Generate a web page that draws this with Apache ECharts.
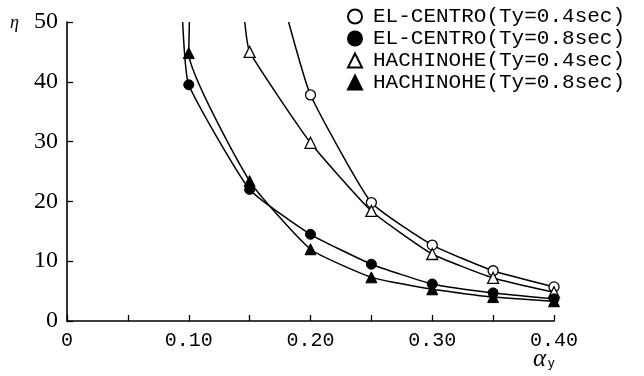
<!DOCTYPE html>
<html><head><meta charset="utf-8">
<script src="https://cdn.jsdelivr.net/npm/echarts@6/dist/echarts.min.js"></script>
<style>html,body{margin:0;padding:0;background:#fff}#c{width:644px;height:376px}</style>
</head><body><div id="c"></div>
<script>
// x values (alpha_y)
const alphaY = [0.10, 0.15, 0.20, 0.25, 0.30, 0.35, 0.40];
const seriesNames = ['EL-CENTRO(Ty=0.4sec)', 'EL-CENTRO(Ty=0.8sec)', 'HACHINOHE(Ty=0.4sec)', 'HACHINOHE(Ty=0.8sec)'];
// eta values read at each alpha_y (null = above the plotted range)
const elCentro04 = [null, null, 37.8, 19.8, 12.7, 8.4, 5.7];
const elCentro08 = [39.5, 22.0, 14.5, 9.5, 6.2, 4.7, 3.7];
const hachinohe04 = [null, 45.0, 29.8, 18.4, 11.2, 7.2, 4.8];
const hachinohe08 = [44.8, 23.4, 12.0, 7.3, 5.3, 4.0, 3.3];
// alpha_y where each curve leaves the top of the plot (eta = 50)
const topExitX = [0.182, 0.095, 0.146, 0.1005];
const topEta = 50;
// tick labels
const xTickValues = [0, 0.10, 0.20, 0.30, 0.40];
const xTickLabels = ['0', '0.10', '0.20', '0.30', '0.40'];
const yTickLabels = ['0', '10', '20', '30', '40', '50'];

const allValues = [elCentro04, elCentro08, hachinohe04, hachinohe08];
const symbols = ['circle', 'circle', 'triangle', 'triangle'];
const filled = [false, true, false, true];

function buildData(vals, exitX) {
  const d = [{ value: [exitX, topEta], symbol: 'none' }];
  vals.forEach((v, i) => { if (v != null) d.push([alphaY[i], v]); });
  return d;
}

const series = allValues.map((vals, k) => ({
  name: seriesNames[k],
  type: 'line',
  data: buildData(vals, topExitX[k]),
  smooth: 0.15,
  symbol: symbols[k],
  symbolSize: symbols[k] === 'circle' ? 10 : 11,
  lineStyle: { color: '#000', width: 1.5 },
  itemStyle: filled[k]
    ? { color: '#000', borderColor: '#000', borderWidth: 1 }
    : { color: '#fff', borderColor: '#000', borderWidth: 1.3 },
  emphasis: { disabled: true },
  z: filled[k] ? 3 : 2
}));

const chart = echarts.init(document.getElementById('c'), null, { renderer: 'canvas' });
chart.setOption({
  animation: false,
  backgroundColor: '#fff',
  grid: { left: 67, right: 90, top: 22, bottom: 55, containLabel: false },
  legend: {
    orient: 'vertical',
    left: 342, top: 1,
    itemWidth: 14, itemHeight: 14, itemGap: 1,
    selectedMode: false,
    data: seriesNames.map((n, k) => ({ name: n, icon: symbols[k] })),
    textStyle: { fontFamily: 'Liberation Mono', fontSize: 21, color: '#000', padding: [0, 0, 0, 6] }
  },
  xAxis: {
    type: 'value', min: 0, max: 0.4, interval: 0.05,
    axisLine: { show: true, lineStyle: { color: '#000', width: 1.6 } },
    axisTick: { show: true, inside: true, length: 6, lineStyle: { color: '#000', width: 1.3 } },
    splitLine: { show: false },
    axisLabel: {
      margin: 10,
      fontFamily: 'Liberation Mono', fontSize: 20, color: '#000',
      formatter: v => {
        const i = xTickValues.findIndex(t => Math.abs(t - v) < 1e-6);
        return i >= 0 ? xTickLabels[i] : '';
      }
    }
  },
  yAxis: {
    type: 'value', min: 0, max: 50, interval: 10,
    axisLine: { show: true, lineStyle: { color: '#000', width: 1.6 } },
    axisTick: { show: true, inside: true, length: 6, lineStyle: { color: '#000', width: 1.3 } },
    splitLine: { show: false },
    axisLabel: {
      margin: 9,
      fontFamily: 'Liberation Serif', fontSize: 24, color: '#000',
      formatter: v => yTickLabels[Math.round(v / 10)]
    }
  },
  graphic: [
    { type: 'text', left: 10, top: 14, style: { text: 'η', font: 'italic 18px "Liberation Serif"', fill: '#000' } },
    { type: 'text', left: 533, top: 347, style: {
      text: '{a|α}{s|y}',
      rich: {
        a: { font: 'italic 25px "Liberation Serif"', fill: '#000' },
        s: { font: '13px "Liberation Sans"', fill: '#000', padding: [8, 0, 0, 2] }
      }
    } }
  ],
  series
});
</script></body></html>
